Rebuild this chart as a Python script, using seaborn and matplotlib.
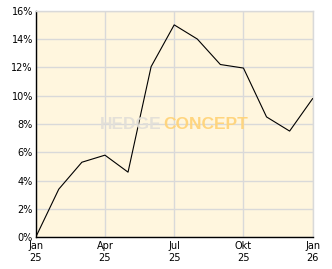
import matplotlib
matplotlib.use("Agg")
import matplotlib.pyplot as plt
import seaborn as sns
import pandas as pd
from matplotlib.ticker import MultipleLocator, FuncFormatter

months = ["2025-01", "2025-02", "2025-03", "2025-04", "2025-05", "2025-06", "2025-07",
          "2025-08", "2025-09", "2025-10", "2025-11", "2025-12", "2026-01"]
values = [0.0, 3.4, 5.3, 5.8, 4.6, 12.05, 15.0, 14.0, 12.2, 11.95, 8.5, 7.5, 9.8]
tick_labels = ["Jan\n25", "Apr\n25", "Jul\n25", "Okt\n25", "Jan\n26"]
tick_months = [0, 3, 6, 9, 12]

df = pd.DataFrame({"idx": list(range(len(months))), "value": values})

sns.set_theme(style="white")
plt.rcParams["font.family"] = ["DejaVu Sans"]

fig = plt.figure(figsize=(3.32, 2.69), dpi=100)
fig.patch.set_facecolor("white")
ax = fig.add_axes([35.7 / 332, 1 - 237.3 / 269, (312.7 - 35.7) / 332, (237.3 - 10.7) / 269])
ax.set_facecolor("#FFF6DE")

sns.lineplot(data=df, x="idx", y="value", ax=ax, color="black", linewidth=0.8, zorder=3)

ax.set_xlim(0, 12)
ax.set_ylim(0, 16)
ax.set_xticks(tick_months)
ax.set_xticklabels(tick_labels)
ax.yaxis.set_major_locator(MultipleLocator(2))
ax.yaxis.set_minor_locator(MultipleLocator(1))
ax.yaxis.set_major_formatter(FuncFormatter(lambda v, p: f"{int(v)}%"))
ax.set_xlabel("")
ax.set_ylabel("")

ax.grid(True, which="major", color="#D9D9D9", linewidth=1.0, zorder=1)
ax.set_axisbelow(True)

ax.tick_params(axis="both", which="both", direction="in", colors="black",
               labelsize=7, length=4, width=0.8, pad=2)
ax.tick_params(axis="y", which="minor", length=4)
ax.tick_params(axis="x", pad=3)
for lab in ax.get_xticklabels():
    lab.set_linespacing(1.15)

for s in ["left", "bottom"]:
    ax.spines[s].set_color("black")
    ax.spines[s].set_linewidth(1.0)
for s in ["top", "right"]:
    ax.spines[s].set_color("#D9D9D9")
    ax.spines[s].set_linewidth(1.0)

wm_font = ["Liberation Sans", "DejaVu Sans"]
ax.text(0.455, 0.496, "HEDGE", transform=ax.transAxes, ha="right", va="center",
        fontsize=12.5, fontweight="bold", family=wm_font,
        color="#E2DFD8", alpha=0.92, zorder=4)
ax.text(0.460, 0.496, "CONCEPT", transform=ax.transAxes, ha="left", va="center",
        fontsize=12.5, fontweight="bold", family=wm_font,
        color="#FFD47A", alpha=0.95, zorder=4)

fig.savefig("out.png", dpi=100, facecolor="white")
